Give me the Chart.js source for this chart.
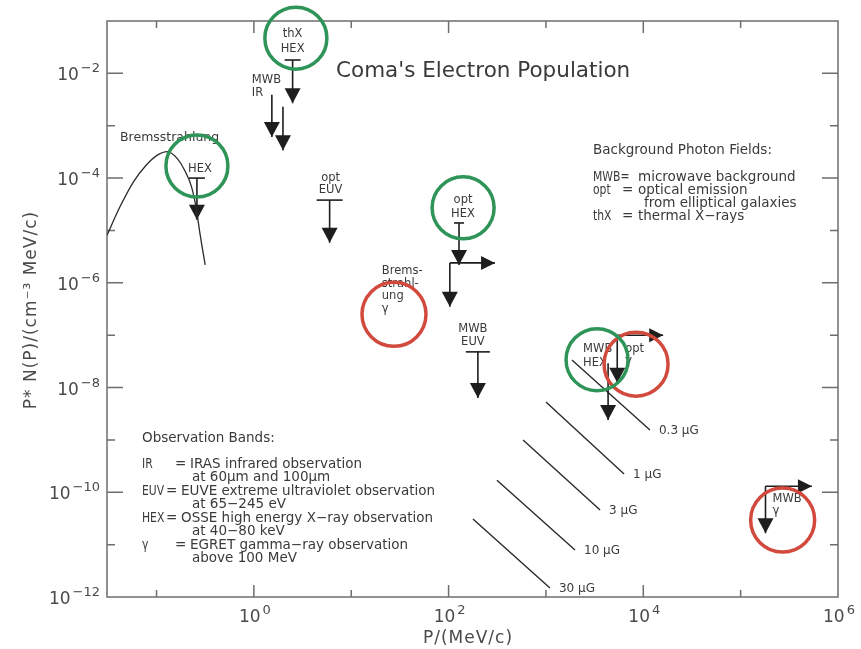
<!DOCTYPE html>
<html>
<head>
<meta charset="utf-8">
<script src="https://cdn.jsdelivr.net/npm/chart.js@4"></script>
<style>
  html, body { margin: 0; padding: 0; background: #fff; }
</style>
</head>
<body>
<canvas id="comaChart" width="861" height="649"></canvas>
<script>
// axis ranges and ticks
const xMin = 0.031, xMax = 1e6;
const yMin = 1e-12, yMax = 1e-1;
const xTickExp = [-1, 0, 1, 2, 3, 4, 5];
const xLabelExp = [0, 2, 4, 6];
const yTickExp = [-11, -10, -9, -8, -7, -6, -5, -4, -3, -2];
const yLabelExp = [-12, -10, -8, -6, -4, -2];

// thermal bremsstrahlung curve
const bremsP = [0.031, 0.042, 0.058, 0.079, 0.102, 0.129, 0.162, 0.195, 0.229, 0.257, 0.279, 0.316];
const bremsN = [8.1e-6, 2.8e-5, 8.5e-5, 1.8e-4, 2.75e-4, 3.2e-4, 2.4e-4, 1.4e-4, 6.8e-5, 2.5e-5, 8.9e-6, 2.2e-6];

// upper limits (stem from top down to arrow tip)
const limitP   = [0.26, 2.5, 1.53, 1.99, 6.0, 128, 103, 200, 5400, 4350, 1.8e5];
const limitTop = [1e-4, 1.8e-2, 3.9e-3, 2.3e-3, 3.8e-5, 1.39e-5, 2.4e-6, 4.8e-8, 1e-7, 2.9e-8, 1.3e-10];
const limitTip = [1.6e-5, 2.7e-3, 6.1e-4, 3.4e-4, 5.8e-6, 2.2e-6, 3.5e-7, 6.3e-9, 1.23e-8, 2.4e-9, 1.65e-11];
const limitLabel = [['HEX'], ['thX', 'HEX'], ['MWB', 'IR'], [], ['opt', 'EUV'], ['opt', 'HEX'],
  ['Brems-', 'strahl-', 'ung', 'γ'], ['MWB', 'EUV'], ['opt', 'γ'], ['MWB', 'HEX'], ['MWB', 'γ']];

// lower limits in P (arrows to the right)
const rightFromP = [103, 5400, 1.8e5];
const rightToP   = [300, 1.6e4, 5.4e5];
const rightN     = [2.4e-6, 1e-7, 1.3e-10];

// synchrotron limits for field strengths
const fieldLabels = ['0.3 μG', '1 μG', '3 μG', '10 μG', '30 μG'];
const fieldP0 = [1850, 1000, 582, 314, 178];
const fieldN0 = [3.36e-8, 5.3e-9, 1.0e-9, 1.7e-10, 3.1e-11];
const fieldP1 = [1.17e4, 6350, 3600, 1990, 1100];
const fieldN1 = [1.55e-9, 2.24e-10, 4.6e-11, 7.9e-12, 1.48e-12];

// highlight circles
const greenP = [0.26, 2.7, 141, 3350];
const greenN = [1.7e-4, 4.7e-2, 2.7e-5, 3.4e-8];
const redP = [27.5, 8430, 2.7e5];
const redN = [2.5e-7, 2.8e-8, 2.95e-11];

// styling for the limit glyphs: cap half-width, label offset, alignment, line height
const capHalf = [8, 8, 0, 0, 13, 5, 0, 12, 0, 0, 0];
const labelLayout = [
  { dx: 3, dy: -6, align: 'center', lh: 13 },
  { dx: 0, dy: -23, align: 'center', lh: 15 },
  { dx: -20, dy: -12, align: 'left', lh: 13 },
  null,
  { dx: 1, dy: -19, align: 'center', lh: 12 },
  { dx: 4, dy: -20, align: 'center', lh: 14 },
  { dx: -68, dy: 11, align: 'left', lh: 12.7 },
  { dx: -5, dy: -20, align: 'center', lh: 13 },
  { dx: 8, dy: 17, align: 'left', lh: 12 },
  { dx: -25, dy: -11, align: 'left', lh: 14 },
  { dx: 7, dy: 16, align: 'left', lh: 12 }
];

const FONT = '"DejaVu Sans", sans-serif';
const INK = '#3a3a3a';

const pts = (xs, ys) => xs.map((v, i) => ({ x: v, y: ys[i] }));

const stemData = [];
limitP.forEach((p, i) => {
  stemData.push({ x: p, y: limitTop[i] }, { x: p, y: limitTip[i] }, { x: p, y: null });
});
const rightData = [];
rightFromP.forEach((p, i) => {
  rightData.push({ x: p, y: rightN[i] }, { x: rightToP[i], y: rightN[i] }, { x: p, y: null });
});
const fieldData = [];
fieldP0.forEach((p, i) => {
  fieldData.push({ x: p, y: fieldN0[i] }, { x: fieldP1[i], y: fieldN1[i] }, { x: p, y: null });
});

function supLabel(ctx, exp, x, y, align) {
  const base = '10', sup = exp < 0 ? '\u2212' + (-exp) : String(exp);
  ctx.font = '17px ' + FONT;
  const wb = ctx.measureText(base).width;
  ctx.font = '13px ' + FONT;
  const ws = ctx.measureText(sup).width;
  const w = wb + 2 + ws;
  const x0 = align === 'right' ? x - w : x - w / 2;
  ctx.textAlign = 'left';
  ctx.font = '17px ' + FONT;
  ctx.fillText(base, x0, y);
  ctx.font = '13px ' + FONT;
  ctx.fillText(sup, x0 + wb + 2, y - 8);
}

// narrow capitals, like the plotting font of the original
function narrowText(ctx, t, x, y) {
  ctx.save();
  ctx.translate(x, y);
  ctx.scale(0.8, 1);
  ctx.fillText(t, 0, 0);
  ctx.restore();
}

const decor = {
  id: 'decor',
  beforeDatasetsDraw(chart) {
    const { ctx, chartArea: a, scales: { x, y } } = chart;
    ctx.save();

    // frame and inward ticks
    ctx.strokeStyle = '#6e6e6e';
    ctx.lineWidth = 1.5;
    ctx.strokeRect(a.left, a.top, a.right - a.left, a.bottom - a.top);
    ctx.beginPath();
    xTickExp.forEach(e => {
      const px = x.getPixelForValue(Math.pow(10, e));
      const len = e % 2 === 0 ? 12 : 7;
      ctx.moveTo(px, a.bottom); ctx.lineTo(px, a.bottom - len);
      ctx.moveTo(px, a.top); ctx.lineTo(px, a.top + len);
    });
    yTickExp.forEach(e => {
      const py = y.getPixelForValue(Math.pow(10, e));
      const len = e % 2 === 0 ? 16 : 8;
      ctx.moveTo(a.left, py); ctx.lineTo(a.left + len, py);
      ctx.moveTo(a.right, py); ctx.lineTo(a.right - len, py);
    });
    ctx.stroke();

    // tick labels
    ctx.fillStyle = '#4a4a4a';
    ctx.textBaseline = 'alphabetic';
    yLabelExp.forEach(e => {
      const py = y.getPixelForValue(Math.pow(10, e));
      supLabel(ctx, e, a.left - 7, py + 7, 'right');
    });
    xLabelExp.forEach(e => {
      const px = x.getPixelForValue(Math.pow(10, e));
      supLabel(ctx, e, px + 1, a.bottom + 25, 'center');
    });

    // axis titles
    ctx.textAlign = 'center';
    ctx.font = '17px ' + FONT;
    ctx.letterSpacing = '1px';
    ctx.fillText('P/(MeV/c)', 468, 643);
    ctx.save();
    ctx.translate(36, 310);
    ctx.rotate(-Math.PI / 2);
    ctx.fillText('P* N(P)/(cm\u207B\u00B3 MeV/c)', 0, 0);
    ctx.restore();
    ctx.letterSpacing = '0px';

    // title
    ctx.fillStyle = INK;
    ctx.font = '21.5px ' + FONT;
    ctx.textAlign = 'left';
    ctx.fillText("Coma's Electron Population", 336, 77);

    // legend text blocks
    const body = '13.5px ' + FONT;
    ctx.font = body;
    ctx.fillText('Background Photon Fields:', 593, 154);
    narrowText(ctx, 'MWB=', 593, 181);
    narrowText(ctx, 'opt', 593, 194); ctx.fillText('=', 622, 194);
    narrowText(ctx, 'thX', 593, 220); ctx.fillText('=', 622, 220);
    ctx.fillText('microwave background', 638, 181);
    ctx.fillText('optical emission', 638, 194);
    ctx.fillText('from elliptical galaxies', 644, 207);
    ctx.fillText('thermal X\u2212rays', 638, 220);

    ctx.fillText('Observation Bands:', 142, 442);
    const obs = [
      ['IR', 175, 190, 'IRAS infrared observation', 'at 60\u03BCm and 100\u03BCm'],
      ['EUV', 166, 181, 'EUVE extreme ultraviolet observation', 'at 65\u2212245 eV'],
      ['HEX', 166, 181, 'OSSE high energy X\u2212ray observation', 'at 40\u221280 keV'],
      ['\u03B3', 175, 190, 'EGRET gamma\u2212ray observation', 'above 100 MeV']
    ];
    obs.forEach((r, i) => {
      const by = 468 + i * 27;
      narrowText(ctx, r[0], 142, by);
      ctx.fillText('=', r[1], by);
      ctx.fillText(r[3], r[2], by);
      ctx.fillText(r[4], 192, by + 13);
    });

    // bremsstrahlung label
    ctx.font = '12.5px ' + FONT;
    ctx.fillText('Bremsstrahlung', 120, 141);

    // limit glyphs: caps, arrow heads, labels
    ctx.fillStyle = '#1e1e1e';
    ctx.strokeStyle = '#1e1e1e';
    ctx.lineWidth = 1.6;
    limitP.forEach((p, i) => {
      const px = x.getPixelForValue(p);
      const pt = y.getPixelForValue(limitTop[i]);
      const tip = y.getPixelForValue(limitTip[i]);
      if (capHalf[i] > 0) {
        ctx.beginPath();
        ctx.moveTo(px - capHalf[i], pt); ctx.lineTo(px + capHalf[i], pt);
        ctx.stroke();
      }
      ctx.beginPath();
      ctx.moveTo(px - 8, tip - 15); ctx.lineTo(px + 8, tip - 15); ctx.lineTo(px, tip);
      ctx.closePath();
      ctx.fill();
      const lay = labelLayout[i];
      if (lay) {
        ctx.save();
        ctx.fillStyle = INK;
        ctx.font = '11.5px ' + FONT;
        ctx.textAlign = lay.align;
        limitLabel[i].forEach((t, k) => ctx.fillText(t, px + lay.dx, pt + lay.dy + k * lay.lh));
        ctx.restore();
      }
    });
    rightToP.forEach((p, i) => {
      const px = x.getPixelForValue(p);
      const py = y.getPixelForValue(rightN[i]);
      ctx.beginPath();
      ctx.moveTo(px - 14, py - 7); ctx.lineTo(px - 14, py + 7); ctx.lineTo(px, py);
      ctx.closePath();
      ctx.fill();
    });

    // field strength labels
    ctx.fillStyle = INK;
    ctx.font = '12px ' + FONT;
    ctx.textAlign = 'left';
    fieldLabels.forEach((t, i) => {
      const px = x.getPixelForValue(fieldP1[i]);
      const py = y.getPixelForValue(fieldN1[i]);
      ctx.fillText(t, px + 9, py + 4);
    });

    ctx.restore();
  }
};

new Chart(document.getElementById('comaChart'), {
  type: 'scatter',
  data: {
    datasets: [
      {
        label: 'green',
        data: pts(greenP, greenN),
        pointRadius: 31,
        pointHoverRadius: 31,
        pointBorderWidth: 3.5,
        pointBorderColor: '#2e9457',
        pointBackgroundColor: 'rgba(0,0,0,0)',
        clip: false
      },
      {
        label: 'red',
        data: pts(redP, redN),
        pointRadius: 32,
        pointHoverRadius: 32,
        pointBorderWidth: 3.5,
        pointBorderColor: '#d2493d',
        pointBackgroundColor: 'rgba(0,0,0,0)',
        clip: false
      },
      {
        label: 'Bremsstrahlung',
        data: pts(bremsP, bremsN),
        showLine: true,
        pointRadius: 0,
        borderColor: '#2a2a2a',
        borderWidth: 1.3,
        cubicInterpolationMode: 'monotone'
      },
      {
        label: 'limits',
        data: stemData,
        showLine: true,
        pointRadius: 0,
        borderColor: '#1e1e1e',
        borderWidth: 1.6,
        spanGaps: false
      },
      {
        label: 'right',
        data: rightData,
        showLine: true,
        pointRadius: 0,
        borderColor: '#1e1e1e',
        borderWidth: 1.6,
        spanGaps: false
      },
      {
        label: 'fields',
        data: fieldData,
        showLine: true,
        pointRadius: 0,
        borderColor: '#2a2a2a',
        borderWidth: 1.4,
        spanGaps: false
      }
    ]
  },
  options: {
    responsive: false,
    animation: false,
    devicePixelRatio: 1,
    events: [],
    layout: { autoPadding: false, padding: { left: 107, right: 23, top: 21, bottom: 52 } },
    plugins: { legend: { display: false }, tooltip: { enabled: false } },
    scales: {
      x: { type: 'logarithmic', min: xMin, max: xMax, display: false },
      y: { type: 'logarithmic', min: yMin, max: yMax, display: false }
    }
  },
  plugins: [decor]
});
</script>
</body>
</html>
